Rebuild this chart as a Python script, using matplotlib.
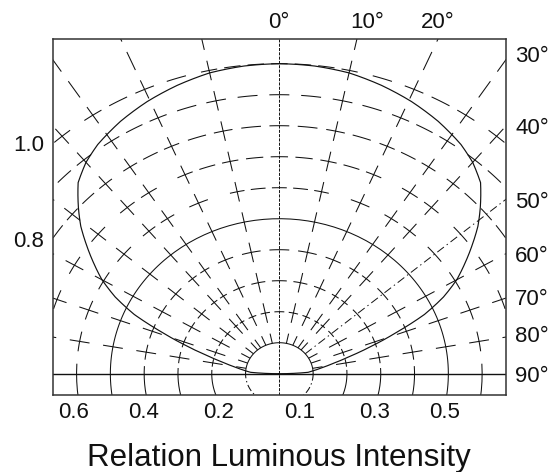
import numpy as np
import matplotlib
matplotlib.use('Agg')
import matplotlib.pyplot as plt
from matplotlib.collections import LineCollection

plt.rcParams['font.family'] = ['Liberation Sans', 'DejaVu Sans']
plt.rcParams['lines.scale_dashes'] = False

# ---------------- data ----------------
lobe_angle_deg = [0, 6, 12, 18, 24, 30, 36, 40, 44, 48, 51, 54, 57, 60,
                  63, 66, 69, 72, 75, 78, 81, 84, 87, 90]
lobe_intensity = [1.000, 0.998, 0.992, 0.978, 0.961, 0.940, 0.914, 0.890, 0.857, 0.800, 0.756, 0.705, 0.655, 0.606,
                  0.545, 0.470, 0.370, 0.285, 0.215, 0.165, 0.130, 0.105, 0.085, 0.0]

ring_radii = [0.1, 0.2, 0.3, 0.4, 0.5, 0.6, 0.7, 0.8, 0.9, 1.0]
solid_ring = 0.5
spoke_angle_deg = [12, 23.5, 33.5, 40, 50, 60, 70, 80]
marked_angle_deg = 50

top_labels = ['0°', '10°', '20°']
side_labels = ['30°', '40°', '50°', '60°', '70°', '80°', '90°']
left_labels = ['1.0', '0.8']
bottom_labels = ['0.6', '0.4', '0.2', '0.1', '0.3', '0.5']
xlabel_text = 'Relation Luminous Intensity'

# ---------------- layout ----------------
W, H = 552, 472
fig = plt.figure(figsize=(W / 100, H / 100), dpi=100)
L, R, T, B = 52.7, 506.0, 39.3, 395.0
ax = fig.add_axes([L / W, 1 - B / H, (R - L) / W, (B - T) / H])
XMAX = 0.6706
YMIN, YMAX = -0.0687, 1.0787
ax.set_xlim(-XMAX, XMAX)
ax.set_ylim(YMIN, YMAX)
ax.set_xticks([])
ax.set_yticks([])
for s in ax.spines.values():
    s.set_linewidth(1.1)
    s.set_color('#333333')
    s.set_zorder(10)

sx = (R - L) / (2 * XMAX)   # px per data unit (x)
sy = (B - T) / (YMAX - YMIN)  # px per data unit (y)

INK = '#111111'
GLW = 0.75


def pol(r, t):
    tr = np.radians(t)
    return r * np.sin(tr), r * np.cos(tr)


def arc_px_per_deg(r, t):
    tr = np.radians(t)
    return r * np.sqrt((sx * np.cos(tr)) ** 2 + (sy * np.sin(tr)) ** 2) * np.pi / 180


def arc_seg(r, t0, t1, n=24):
    ts = np.linspace(t0, t1, n)
    x, y = pol(r, ts)
    return np.column_stack([x, y])


# crossing angles (spokes, centre line, horizontal)
cross = sorted(set([-90.0, 0.0, 90.0] + [a for a in spoke_angle_deg] + [-a for a in spoke_angle_deg]))

segs = []
# ---- dashed rings ----
for r in ring_radii:
    if r == solid_ring or r == ring_radii[0]:
        continue
    centers = []
    for a0, a1 in zip(cross[:-1], cross[1:]):
        Lpx = arc_px_per_deg(r, (a0 + a1) / 2) * (a1 - a0)
        n = max(1, int(round(Lpx / 28.0)))
        for i in range(n):
            centers.append(a0 + (a1 - a0) * i / n)
    centers.append(cross[-1])
    for i, c in enumerate(centers):
        gaps = []
        if i > 0:
            gaps.append(arc_px_per_deg(r, c) * (c - centers[i - 1]))
        if i < len(centers) - 1:
            gaps.append(arc_px_per_deg(r, c) * (centers[i + 1] - c))
        hpx = min(10.0, 0.35 * min(gaps))
        hd = hpx / arc_px_per_deg(r, c)
        t0, t1 = c - hd, c + hd
        if c == 90.0:
            t1 = 150.0
        if c == -90.0:
            t0 = -150.0
        segs.append(arc_seg(r, t0, t1))

# ---- dashed spokes ----
for sgn in (1, -1):
    for a in spoke_angle_deg:
        if sgn == 1 and a == marked_angle_deg:
            continue
        t = sgn * a
        tr = np.radians(t)
        sp = np.hypot(sx * np.sin(tr), sy * np.cos(tr))  # px per unit radius
        hr = min(10.0, 0.35 * 0.1 * sp) / sp
        for k in range(1, 16):
            rc = 0.1 * k
            r0, r1 = max(0.1, rc - hr), rc + hr
            x0, y0 = pol(r0, t)
            x1, y1 = pol(r1, t)
            segs.append(np.array([[x0, y0], [x1, y1]]))

ax.add_collection(LineCollection(segs, colors=INK, linewidths=GLW, capstyle='butt'))

# ---- small ring: upper solid, lower dash-dot ----
ax.plot(*arc_seg(ring_radii[0], -90, 90, 60).T, color=INK, lw=GLW)
ax.plot(*arc_seg(ring_radii[0], 90, 270, 60).T, color=INK, lw=GLW,
        ls=(0, (5, 2, 1, 2)))
# ---- solid ring ----
ax.plot(*arc_seg(solid_ring, -180, 180, 240).T, color=INK, lw=GLW)

# ---- centre line and horizontal line ----
ax.plot([0, 0], [YMIN, YMAX], color=INK, lw=0.7, ls=(0, (2.2, 0.9)))
ax.axhline(0, color=INK, lw=1.0)

# ---- marked angle dash-dot ----
x0, y0 = pol(0.1, marked_angle_deg)
x1, y1 = pol(1.6, marked_angle_deg)
ax.plot([x0, x1], [y0, y1], color=INK, lw=0.7, ls=(0, (6, 2.5, 1, 2.5)))

# ---- radiation lobe (segments drawn linearly in angle/radius, like a polar plot) ----
la = np.array(lobe_angle_deg, float)
li = np.array(lobe_intensity, float)
th_full = np.concatenate([-la[::-1], la[1:]])
r_full = np.concatenate([li[::-1], li[1:]])
TH, RR = [], []
for i in range(len(th_full) - 1):
    f = np.linspace(0, 1, 12, endpoint=False)
    TH.append(th_full[i] + (th_full[i + 1] - th_full[i]) * f)
    RR.append(r_full[i] + (r_full[i + 1] - r_full[i]) * f)
TH.append([th_full[-1]])
RR.append([r_full[-1]])
TH = np.concatenate(TH)
RR = np.concatenate(RR)
X, Y = pol(RR, TH)
ax.plot(X, Y, color=INK, lw=0.85, zorder=5)

# ---------------- text ----------------
FS = 16


def ftext(xp, yp, s, **kw):
    fig.text(xp / W, 1 - yp / H, s, fontsize=kw.pop('fontsize', FS), color='#111111', **kw)


for s, xp in zip(top_labels, [268.0, 350.5, 421.0]):
    ftext(xp, 27.8, s, ha='left', va='baseline')
for s, yp in zip(side_labels, [62.3, 134.0, 208.3, 262.3, 305.0, 342.3, 381.7]):
    ftext(515.0, yp, s, ha='left', va='baseline')
for s, yp in zip(left_labels, [150.7, 247.3]):
    ftext(44.5, yp, s, ha='right', va='baseline')
for s, xp in zip(bottom_labels, [74.0, 144.0, 219.0, 300.0, 375.0, 445.0]):
    ftext(xp, 418.0, s, ha='center', va='baseline')
ftext(279.0, 466.0, xlabel_text, ha='center', va='baseline', fontsize=22.5)

fig.savefig('out.png', dpi=100)
